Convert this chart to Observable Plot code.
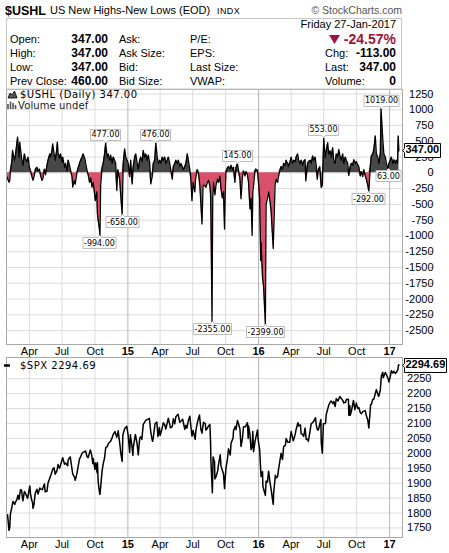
<!DOCTYPE html>
<html>
<head>
<meta charset="utf-8">
<script src="https://cdn.jsdelivr.net/npm/d3@7"></script>
<script src="https://cdn.jsdelivr.net/npm/@observablehq/plot@0.6"></script>
<style>
html,body{margin:0;padding:0;background:#fff;}
body{width:449px;height:553px;position:relative;overflow:hidden;}
</style>
</head>
<body>
<script>
// ---------- DATA ----------
const ushlDates = [
"2014-01-28","2014-01-30",
"2014-02-03","2014-02-05","2014-02-07","2014-02-11","2014-02-13","2014-02-18","2014-02-21","2014-02-24","2014-02-27",
"2014-03-03","2014-03-05","2014-03-07","2014-03-11","2014-03-14","2014-03-18","2014-03-21","2014-03-25","2014-03-28",
"2014-04-01","2014-04-04","2014-04-08","2014-04-11","2014-04-15","2014-04-18","2014-04-22","2014-04-25","2014-04-29",
"2014-05-02","2014-05-06","2014-05-09","2014-05-13","2014-05-16","2014-05-20","2014-05-23","2014-05-28","2014-05-30",
"2014-06-03","2014-06-05","2014-06-09","2014-06-12","2014-06-16","2014-06-18","2014-06-20","2014-06-24","2014-06-27",
"2014-07-01","2014-07-03","2014-07-08","2014-07-11","2014-07-15","2014-07-18","2014-07-22","2014-07-25","2014-07-29","2014-07-31",
"2014-08-04","2014-08-07","2014-08-11","2014-08-14","2014-08-19","2014-08-22","2014-08-26","2014-08-29",
"2014-09-03","2014-09-05","2014-09-09","2014-09-12","2014-09-16","2014-09-19","2014-09-23","2014-09-26","2014-09-30",
"2014-10-02","2014-10-06","2014-10-08","2014-10-10","2014-10-13","2014-10-15","2014-10-17","2014-10-21","2014-10-24","2014-10-28","2014-10-31",
"2014-11-04","2014-11-07","2014-11-11","2014-11-14","2014-11-18","2014-11-21","2014-11-25","2014-11-28",
"2014-12-01","2014-12-04","2014-12-09","2014-12-12","2014-12-16","2014-12-19","2014-12-23","2014-12-26","2014-12-30",
"2015-01-02","2015-01-06","2015-01-09","2015-01-13","2015-01-16","2015-01-20","2015-01-23","2015-01-27","2015-01-30",
"2015-02-03","2015-02-06","2015-02-10","2015-02-13","2015-02-17","2015-02-20","2015-02-24","2015-02-27",
"2015-03-03","2015-03-06","2015-03-10","2015-03-13","2015-03-17","2015-03-20","2015-03-24","2015-03-27","2015-03-31",
"2015-04-03","2015-04-07","2015-04-10","2015-04-14","2015-04-17","2015-04-21","2015-04-24","2015-04-28",
"2015-05-01","2015-05-05","2015-05-08","2015-05-12","2015-05-15","2015-05-19","2015-05-22","2015-05-26","2015-05-29",
"2015-06-02","2015-06-05","2015-06-09","2015-06-12","2015-06-16","2015-06-19","2015-06-23","2015-06-26","2015-06-29",
"2015-07-02","2015-07-07","2015-07-09","2015-07-14","2015-07-17","2015-07-21","2015-07-24","2015-07-27","2015-07-30",
"2015-08-04","2015-08-07","2015-08-11","2015-08-14","2015-08-18","2015-08-20","2015-08-21","2015-08-24","2015-08-26","2015-08-28",
"2015-09-01","2015-09-04","2015-09-08","2015-09-11","2015-09-15","2015-09-18","2015-09-22","2015-09-25","2015-09-28","2015-09-30",
"2015-10-02","2015-10-06","2015-10-09","2015-10-13","2015-10-16","2015-10-20","2015-10-23","2015-10-27","2015-10-30",
"2015-11-03","2015-11-06","2015-11-10","2015-11-13","2015-11-17","2015-11-20","2015-11-24","2015-11-27",
"2015-12-01","2015-12-04","2015-12-08","2015-12-11","2015-12-14","2015-12-16","2015-12-18","2015-12-22","2015-12-24","2015-12-29","2015-12-31",
"2016-01-04","2016-01-07","2016-01-08","2016-01-12","2016-01-15","2016-01-20","2016-01-22","2016-01-26","2016-01-29",
"2016-02-02","2016-02-05","2016-02-11","2016-02-16","2016-02-19","2016-02-23","2016-02-26",
"2016-03-01","2016-03-04","2016-03-08","2016-03-11","2016-03-15","2016-03-18","2016-03-22","2016-03-24","2016-03-29",
"2016-04-01","2016-04-05","2016-04-08","2016-04-12","2016-04-15","2016-04-19","2016-04-22","2016-04-26","2016-04-29",
"2016-05-03","2016-05-06","2016-05-10","2016-05-12","2016-05-17","2016-05-20","2016-05-24","2016-05-27","2016-05-31",
"2016-06-03","2016-06-07","2016-06-10","2016-06-13","2016-06-16","2016-06-20","2016-06-24","2016-06-27","2016-06-29",
"2016-07-01","2016-07-05","2016-07-08","2016-07-12","2016-07-15","2016-07-19","2016-07-22","2016-07-26","2016-07-29",
"2016-08-02","2016-08-05","2016-08-09","2016-08-12","2016-08-16","2016-08-19","2016-08-23","2016-08-26","2016-08-30",
"2016-09-02","2016-09-06","2016-09-09","2016-09-13","2016-09-16","2016-09-20","2016-09-23","2016-09-27","2016-09-30",
"2016-10-04","2016-10-07","2016-10-11","2016-10-14","2016-10-18","2016-10-21","2016-10-25","2016-10-28",
"2016-11-01","2016-11-04","2016-11-08","2016-11-11","2016-11-15","2016-11-18","2016-11-22","2016-11-25","2016-11-29",
"2016-12-02","2016-12-06","2016-12-08","2016-12-13","2016-12-16","2016-12-20","2016-12-23","2016-12-28","2016-12-30",
"2017-01-03","2017-01-06","2017-01-10","2017-01-13","2017-01-17","2017-01-20","2017-01-23","2017-01-25","2017-01-26","2017-01-27"
];
const ushlValues = [
-60,-90,
-148,-120,40,180,354,200,280,420,565,
250,486,380,200,120,300,220,180,250,
90,40,-60,-120,-30,60,90,30,60,
-40,-120,-80,60,-30,120,200,300,250,
350,460,300,200,350,486,320,230,300,
170,250,90,150,30,200,120,40,-60,-227,
-120,-180,-20,60,150,200,250,300,
220,150,40,-30,-150,-80,-227,-150,-333,
-440,-300,-650,-755,-870,-994,-200,80,150,300,477,
250,300,200,280,150,250,200,150,
-280,50,-100,-350,-658,150,380,250,200,
150,-60,200,-175,100,250,300,150,60,
200,250,180,354,250,300,200,280,
150,-175,-60,150,200,476,250,150,200,
150,250,200,250,150,200,250,150,
40,-100,100,150,200,150,200,100,150,
100,50,100,150,300,200,50,-100,-440,
-150,-300,-100,50,0,-200,-500,-810,-200,
-200,-230,-150,-120,-200,-350,-700,-2355,-400,-150,
-350,-200,-100,-150,-50,-250,-400,-300,-890,-300,
20,80,100,60,120,50,90,-150,80,
145,40,-100,-410,-50,30,-50,20,
-30,-150,-570,-400,-990,-300,-200,30,60,40,-100,
-400,-1390,-1100,-1650,-1800,-2399,-500,-400,-300,
-450,-600,-1200,-200,-100,-150,-50,
50,100,60,150,120,200,150,100,180,
250,150,200,180,250,300,200,150,200,
120,180,210,-127,150,180,200,150,270,
200,250,120,-100,50,100,-232,-200,150,
553,250,350,480,300,350,250,400,200,
150,300,250,370,250,200,300,150,250,
200,150,-40,100,150,120,210,150,180,
130,100,-50,20,-60,50,-50,-100,
-200,-292,100,270,300,375,586,300,250,
150,300,1019,530,300,250,150,63,150,
200,250,150,210,150,200,150,586,460,347
];

const spxDates = [
"2014-01-28","2014-01-30",
"2014-02-03","2014-02-05","2014-02-07","2014-02-11","2014-02-14","2014-02-19","2014-02-21","2014-02-25","2014-02-28",
"2014-03-03","2014-03-07","2014-03-10","2014-03-13","2014-03-14","2014-03-18","2014-03-21","2014-03-27",
"2014-04-02","2014-04-04","2014-04-07","2014-04-10","2014-04-11","2014-04-14","2014-04-17","2014-04-22","2014-04-25","2014-04-30",
"2014-05-02","2014-05-07","2014-05-13","2014-05-15","2014-05-20","2014-05-23","2014-05-30",
"2014-06-06","2014-06-09","2014-06-12","2014-06-17","2014-06-20","2014-06-24","2014-06-27",
"2014-07-03","2014-07-08","2014-07-11","2014-07-17","2014-07-18","2014-07-24","2014-07-31",
"2014-08-05","2014-08-07","2014-08-12","2014-08-15","2014-08-19","2014-08-22","2014-08-26","2014-08-29",
"2014-09-05","2014-09-09","2014-09-12","2014-09-18","2014-09-22","2014-09-25","2014-09-26",
"2014-10-01","2014-10-03","2014-10-07","2014-10-08","2014-10-10","2014-10-13","2014-10-15","2014-10-17","2014-10-21","2014-10-24","2014-10-28","2014-10-31",
"2014-11-05","2014-11-07","2014-11-13","2014-11-18","2014-11-21","2014-11-26",
"2014-12-01","2014-12-05","2014-12-10","2014-12-12","2014-12-16","2014-12-18","2014-12-23","2014-12-29",
"2015-01-02","2015-01-06","2015-01-08","2015-01-12","2015-01-15","2015-01-16","2015-01-22","2015-01-27","2015-01-30",
"2015-02-03","2015-02-06","2015-02-09","2015-02-13","2015-02-20","2015-02-25",
"2015-03-02","2015-03-06","2015-03-10","2015-03-11","2015-03-13","2015-03-18","2015-03-23","2015-03-26","2015-03-30",
"2015-04-01","2015-04-06","2015-04-10","2015-04-14","2015-04-17","2015-04-24","2015-04-30",
"2015-05-05","2015-05-08","2015-05-12","2015-05-15","2015-05-21","2015-05-26","2015-05-29",
"2015-06-03","2015-06-09","2015-06-12","2015-06-15","2015-06-19","2015-06-23","2015-06-29",
"2015-07-02","2015-07-08","2015-07-10","2015-07-15","2015-07-20","2015-07-24","2015-07-27","2015-07-31",
"2015-08-05","2015-08-07","2015-08-11","2015-08-14","2015-08-18","2015-08-20","2015-08-21","2015-08-24","2015-08-25","2015-08-27","2015-08-31",
"2015-09-01","2015-09-04","2015-09-09","2015-09-11","2015-09-16","2015-09-18","2015-09-22","2015-09-25","2015-09-28","2015-09-30",
"2015-10-02","2015-10-06","2015-10-09","2015-10-14","2015-10-16","2015-10-22","2015-10-23","2015-10-28","2015-10-30",
"2015-11-03","2015-11-06","2015-11-10","2015-11-13","2015-11-17","2015-11-20","2015-11-25",
"2015-12-01","2015-12-03","2015-12-04","2015-12-08","2015-12-11","2015-12-14","2015-12-16","2015-12-18","2015-12-22","2015-12-29","2015-12-31",
"2016-01-04","2016-01-07","2016-01-08","2016-01-12","2016-01-13","2016-01-15","2016-01-20","2016-01-22","2016-01-26","2016-01-29",
"2016-02-02","2016-02-05","2016-02-08","2016-02-11","2016-02-12","2016-02-17","2016-02-19","2016-02-23","2016-02-26",
"2016-03-01","2016-03-04","2016-03-08","2016-03-11","2016-03-16","2016-03-18","2016-03-23","2016-03-28",
"2016-04-01","2016-04-07","2016-04-12","2016-04-15","2016-04-20","2016-04-22","2016-04-27","2016-04-29",
"2016-05-03","2016-05-06","2016-05-10","2016-05-13","2016-05-17","2016-05-19","2016-05-24","2016-05-27",
"2016-06-02","2016-06-08","2016-06-10","2016-06-13","2016-06-16","2016-06-23","2016-06-24","2016-06-27","2016-06-30",
"2016-07-06","2016-07-08","2016-07-13","2016-07-15","2016-07-20","2016-07-22","2016-07-27","2016-07-29",
"2016-08-02","2016-08-05","2016-08-10","2016-08-15","2016-08-19","2016-08-24","2016-08-26","2016-08-31",
"2016-09-02","2016-09-08","2016-09-09","2016-09-12","2016-09-13","2016-09-16","2016-09-22","2016-09-26","2016-09-30",
"2016-10-04","2016-10-07","2016-10-11","2016-10-14","2016-10-18","2016-10-21","2016-10-25","2016-10-28",
"2016-11-01","2016-11-04","2016-11-07","2016-11-09","2016-11-11","2016-11-15","2016-11-18","2016-11-23","2016-11-25",
"2016-12-01","2016-12-02","2016-12-06","2016-12-09","2016-12-13","2016-12-14","2016-12-16","2016-12-20","2016-12-23","2016-12-28","2016-12-30",
"2017-01-03","2017-01-06","2017-01-10","2017-01-13","2017-01-17","2017-01-20","2017-01-24","2017-01-26","2017-01-27"
];
const spxValues = [
1792.5,1794.2,
1741.9,1751.6,1797.0,1819.8,1838.6,1828.8,1836.3,1845.1,1859.5,
1845.7,1878.0,1877.2,1846.3,1841.1,1872.3,1866.5,1849.0,
1890.9,1865.1,1845.0,1833.1,1815.7,1830.6,1864.9,1879.6,1863.4,1883.9,
1881.1,1878.2,1897.5,1870.9,1872.8,1900.5,1923.6,
1949.4,1951.3,1930.1,1942.0,1962.9,1950.0,1961.0,
1985.4,1963.7,1967.6,1958.1,1978.2,1988.0,1930.7,
1920.2,1909.6,1933.8,1955.1,1981.6,1988.4,2000.0,2003.4,
2007.7,1988.4,1985.5,2011.4,1994.3,1966.0,1982.9,
1946.2,1967.9,1935.1,1968.9,1906.1,1874.7,1862.5,1886.8,1941.3,1964.6,1985.1,2018.1,
2023.6,2031.9,2039.3,2051.8,2063.5,2072.8,
2053.4,2075.4,2026.1,2002.3,1972.7,2061.2,2082.2,2090.6,
2058.2,2002.6,2062.1,2028.3,1992.7,2019.4,2063.2,2029.6,1995.0,
2050.0,2055.5,2046.7,2097.0,2110.3,2113.9,
2117.4,2071.3,2044.2,2040.2,2053.4,2099.5,2104.4,2056.2,2086.2,
2059.7,2080.6,2102.1,2095.8,2081.2,2117.7,2085.5,
2089.5,2116.1,2099.1,2122.7,2130.8,2104.2,2107.4,
2114.1,2080.2,2094.1,2084.4,2110.0,2124.2,2057.6,
2076.8,2046.7,2076.6,2107.4,2128.3,2079.7,2067.6,2103.8,
2099.8,2077.6,2084.1,2091.5,2096.9,2035.7,1970.9,1893.2,1867.6,1987.7,1972.2,
1913.9,1921.2,1942.0,1961.1,1995.3,1958.0,1942.7,1931.3,1881.8,1920.0,
1951.4,1979.9,2014.9,1994.2,2033.1,2052.5,2075.2,2090.4,2079.4,
2109.8,2099.2,2081.7,2023.0,2050.4,2089.2,2088.9,
2102.6,2049.6,2091.7,2063.6,2012.4,2021.9,2073.1,2005.6,2039.0,2078.4,2043.9,
2012.7,1943.1,1922.0,1938.7,1890.3,1880.3,1859.3,1906.9,1903.6,1940.2,
1903.0,1880.1,1853.4,1829.1,1864.8,1926.8,1917.8,1921.3,1948.1,
1978.4,2000.0,1979.3,2022.2,2027.2,2049.6,2036.7,2037.1,
2072.8,2041.9,2061.7,2080.7,2102.4,2091.6,2095.2,2065.3,
2063.4,2057.1,2084.4,2046.6,2047.2,2040.0,2076.1,2099.1,
2105.3,2119.1,2096.1,2079.1,2078.0,2113.3,2037.4,2000.5,2098.9,
2099.7,2129.9,2152.4,2161.7,2173.0,2175.0,2166.6,2173.6,
2157.0,2182.9,2175.5,2190.2,2183.9,2175.4,2169.0,2171.0,
2180.0,2181.3,2127.8,2159.0,2127.0,2139.2,2177.2,2146.1,2168.3,
2150.5,2153.7,2136.7,2133.0,2139.6,2141.2,2143.2,2126.4,
2111.7,2085.2,2131.5,2163.3,2164.5,2180.4,2181.9,2204.7,2213.4,
2191.1,2192.0,2212.2,2259.5,2271.7,2253.3,2258.1,2270.8,2263.8,2249.9,2238.8,
2257.8,2277.0,2268.9,2274.6,2267.9,2271.3,2280.1,2296.7,2294.7
];

// annotations on the top panel
const annDates  = ["2014-10-31","2015-03-20","2015-11-03","2016-07-01","2016-12-08","2014-10-15","2014-12-16","2015-08-24","2016-01-20","2016-11-04","2016-12-28"];
const annValues = [477, 476, 145, 553, 1019, -994, -658, -2355, -2399, -292, 63];
const annAbove  = [true, true, true, true, true, false, false, false, false, false, false];

const lastUshl = 347.00;
const lastSpx = 2294.69;

const ushlTicks = [1250,1000,750,500,250,0,-250,-500,-750,-1000,-1250,-1500,-1750,-2000,-2250,-2500];
const spxTicks = [2250,2200,2150,2100,2050,2000,1950,1900,1850,1800,1750];
const monthTickDates = ["2014-04-01","2014-07-01","2014-10-01","2015-04-01","2015-07-01","2015-10-01","2016-04-01","2016-07-01","2016-10-01"];
const monthTickLabels = ["Apr","Jul","Oct","Apr","Jul","Oct","Apr","Jul","Oct"];
const yearTickDates = ["2015-01-01","2016-01-01","2017-01-01"];
const yearTickLabels = ["15","16","17"];

// ---------- BUILD ----------
if (ushlDates.length !== ushlValues.length) throw new Error("ushl mismatch " + ushlDates.length + " " + ushlValues.length);
if (spxDates.length !== spxValues.length) throw new Error("spx mismatch " + spxDates.length + " " + spxValues.length);

const ushl = ushlDates.map((d, i) => ({date: new Date(d), v: ushlValues[i]}));
const spx = spxDates.map((d, i) => ({date: new Date(d), v: spxValues[i]}));
const ann = annDates.map((d, i) => ({date: new Date(d), v: annValues[i], label: annValues[i].toFixed(2), above: annAbove[i]}));
const mDates = monthTickDates.map(d => new Date(d));
const yDates = yearTickDates.map(d => new Date(d));
const mLab = new Map(mDates.map((d, i) => [+d, monthTickLabels[i]]));
const yLab = new Map(yDates.map((d, i) => [+d, yearTickLabels[i]]));
const xDomain = [new Date("2014-01-27"), new Date("2017-02-06")];

const FONT = "'Liberation Sans', Arial, sans-serif";
const ANNFONT = "'DejaVu Sans', Verdana, sans-serif";
const GRID = "#dcdcdc", YEARGRID = "#b4b4b4", FRAME = "#a8a8a8";

function commonX(labelPad) {
  return [
    Plot.axisX(mDates, {anchor: "bottom", tickSize: 0, tickPadding: labelPad, tickFormat: d => mLab.get(+d), fontSize: 11, label: null}),
    Plot.axisX(yDates, {anchor: "bottom", tickSize: 0, tickPadding: labelPad, tickFormat: d => yLab.get(+d), fontWeight: "bold", fontSize: 11, label: null})
  ];
}

const topPanel = Plot.plot({
  width: 449, height: 280,
  marginLeft: 6, marginRight: 47, marginTop: 9, marginBottom: 16,
  x: {type: "utc", domain: xDomain, label: null},
  y: {domain: [-2720, 1321], label: null},
  style: {fontFamily: FONT, fontSize: "11px", color: "#000", background: "transparent", overflow: "visible"},
  marks: [
    Plot.gridY(ushlTicks, {stroke: GRID, strokeOpacity: 1}),
    Plot.gridX(mDates, {stroke: GRID, strokeOpacity: 1}),
    Plot.gridX(yDates, {stroke: YEARGRID, strokeOpacity: 1}),
    Plot.areaY(ushl, {x: "date", y1: 0, y2: d => Math.max(0, d.v), fill: "#474747"}),
    Plot.areaY(ushl, {x: "date", y1: 0, y2: d => Math.min(0, d.v), fill: "#d9506a"}),
    Plot.lineY(ushl, {x: "date", y: "v", stroke: "#000", strokeWidth: 1.3}),
    Plot.frame({stroke: FRAME}),
    Plot.axisY(ushlTicks, {anchor: "right", tickSize: 3, tickPadding: 1, textAnchor: "end", dx: 27, tickFormat: d => String(d), stroke: FRAME, label: null}),
    ...commonX(3),
    Plot.tip(ann.filter(d => d.above), {x: "date", y: "v", title: "label", anchor: "bottom", pointerSize: 4, textPadding: 1, fill: "white", stroke: "#bdbdbd", pathFilter: "none", fontFamily: ANNFONT, fontSize: 8}),
    Plot.tip(ann.filter(d => !d.above), {x: "date", y: "v", title: "label", anchor: "top", pointerSize: 4, textPadding: 1, fill: "white", stroke: "#bdbdbd", pathFilter: "none", fontFamily: ANNFONT, fontSize: 8}),
    Plot.tip([lastUshl], {x: () => xDomain[1], y: d => d, title: d => d.toFixed(2), anchor: "left", pointerSize: 4, textPadding: 1, fill: "white", stroke: "#000", pathFilter: "none", fontFamily: FONT, fontSize: 11, fontWeight: "bold"})
  ]
});

const botPanel = Plot.plot({
  width: 449, height: 205,
  marginLeft: 6, marginRight: 47, marginTop: 9, marginBottom: 16,
  x: {type: "utc", domain: xDomain, label: null},
  y: {domain: [1718, 2321], label: null},
  style: {fontFamily: FONT, fontSize: "11px", color: "#000", background: "transparent", overflow: "visible"},
  marks: [
    Plot.gridY(spxTicks, {stroke: GRID, strokeOpacity: 1}),
    Plot.gridX(mDates, {stroke: GRID, strokeOpacity: 1}),
    Plot.gridX(yDates, {stroke: YEARGRID, strokeOpacity: 1}),
    Plot.lineY(spx, {x: "date", y: "v", stroke: "#000", strokeWidth: 1.5}),
    Plot.frame({stroke: FRAME}),
    Plot.axisY(spxTicks, {anchor: "right", tickSize: 3, tickPadding: 1, textAnchor: "end", dx: 25, tickFormat: d => String(d), stroke: FRAME, label: null}),
    ...commonX(3),
    Plot.tip([lastSpx], {x: () => xDomain[1], y: d => d, title: d => d.toFixed(2), anchor: "left", pointerSize: 4, textPadding: 1, fill: "white", stroke: "#000", pathFilter: "none", fontFamily: FONT, fontSize: 11, fontWeight: "bold"})
  ]
});

topPanel.style.position = "absolute"; topPanel.style.left = "0px"; topPanel.style.top = "80px";
botPanel.style.position = "absolute"; botPanel.style.left = "0px"; botPanel.style.top = "348px";
document.body.appendChild(topPanel);
document.body.appendChild(botPanel);

// ---------- HEADER / LEGENDS ----------
const ov = d3.select("body").append("svg")
  .attr("width", 449).attr("height", 553)
  .style("position", "absolute").style("left", "0px").style("top", "0px").style("pointer-events", "none");

function txt(x, y, t, o = {}) {
  ov.append("text").attr("x", x).attr("y", y)
    .attr("text-anchor", o.a || "start")
    .attr("font-family", o.f || FONT)
    .attr("font-size", o.s || 11)
    .attr("font-weight", o.w || "normal")
    .attr("letter-spacing", o.ls || 0)
    .attr("fill", o.c || "#000")
    .text(t);
}

txt(5, 15, "$USHL", {s: 12.5, w: "bold"});
txt(50, 14, "US New Highs-New Lows (EOD)", {s: 11});
txt(217, 14, "INDX", {s: 9, ls: 0.4});
txt(402, 14, "\u00A9 StockCharts.com", {s: 10.5, a: "end", c: "#555"});

ov.append("rect").attr("x", 6.5).attr("y", 18.5).attr("width", 395).attr("height", 70.5)
  .attr("fill", "none").attr("stroke", "#c8c8c8");

const infoLab1 = ["Open:", "High:", "Low:", "Prev Close:"];
const infoVal1 = ["347.00", "347.00", "347.00", "460.00"];
const infoLab2 = ["Ask:", "Ask Size:", "Bid:", "Bid Size:"];
const infoLab3 = ["P/E:", "EPS:", "Last Size:", "VWAP:"];
const infoLab4 = ["", "Chg:", "Last:", "Volume:"];
const infoVal4 = ["", "-113.00", "347.00", "0"];
const rowY = [42.7, 56.8, 71, 85];
txt(396, 27.5, "Friday  27-Jan-2017", {a: "end", s: 11});
rowY.forEach((y, i) => {
  txt(10, y, infoLab1[i]);
  txt(108, y, infoVal1[i], {a: "end", w: "bold", s: 12});
  txt(119, y, infoLab2[i]);
  txt(190, y, infoLab3[i]);
  if (infoLab4[i]) txt(325, y, infoLab4[i]);
  if (infoVal4[i]) txt(396, y, infoVal4[i], {a: "end", w: "bold", s: 12});
});
ov.append("path").attr("d", "M329,35 L340,35 L334.5,44 Z").attr("fill", "#a0123c");
txt(396, 44, "-24.57%", {a: "end", w: "bold", s: 14, c: "#a0123c"});

// top legend
ov.append("path").attr("d", "M8,98 L10,93 L12,95 L14.5,91 L17,98 Z").attr("fill", "#555").attr("stroke", "#000").attr("stroke-width", 0.8);
txt(20, 98, "$USHL (Daily) 347.00", {f: ANNFONT, s: 10, ls: 0.5});
ov.append("path").attr("d", "M8,109 V104 M10.5,109 V101.5 M13,109 V103 M15.5,109 V105").attr("stroke", "#555").attr("stroke-width", 1.6);
txt(18, 109, "Volume undef", {f: ANNFONT, s: 10, ls: 0.1, c: "#222"});

// bottom legend
ov.append("path").attr("d", "M4,365.5 H10").attr("stroke", "#000").attr("stroke-width", 2.5);
txt(20, 369, "$SPX 2294.69", {f: ANNFONT, s: 10, ls: 0.5});
</script>
</body>
</html>
